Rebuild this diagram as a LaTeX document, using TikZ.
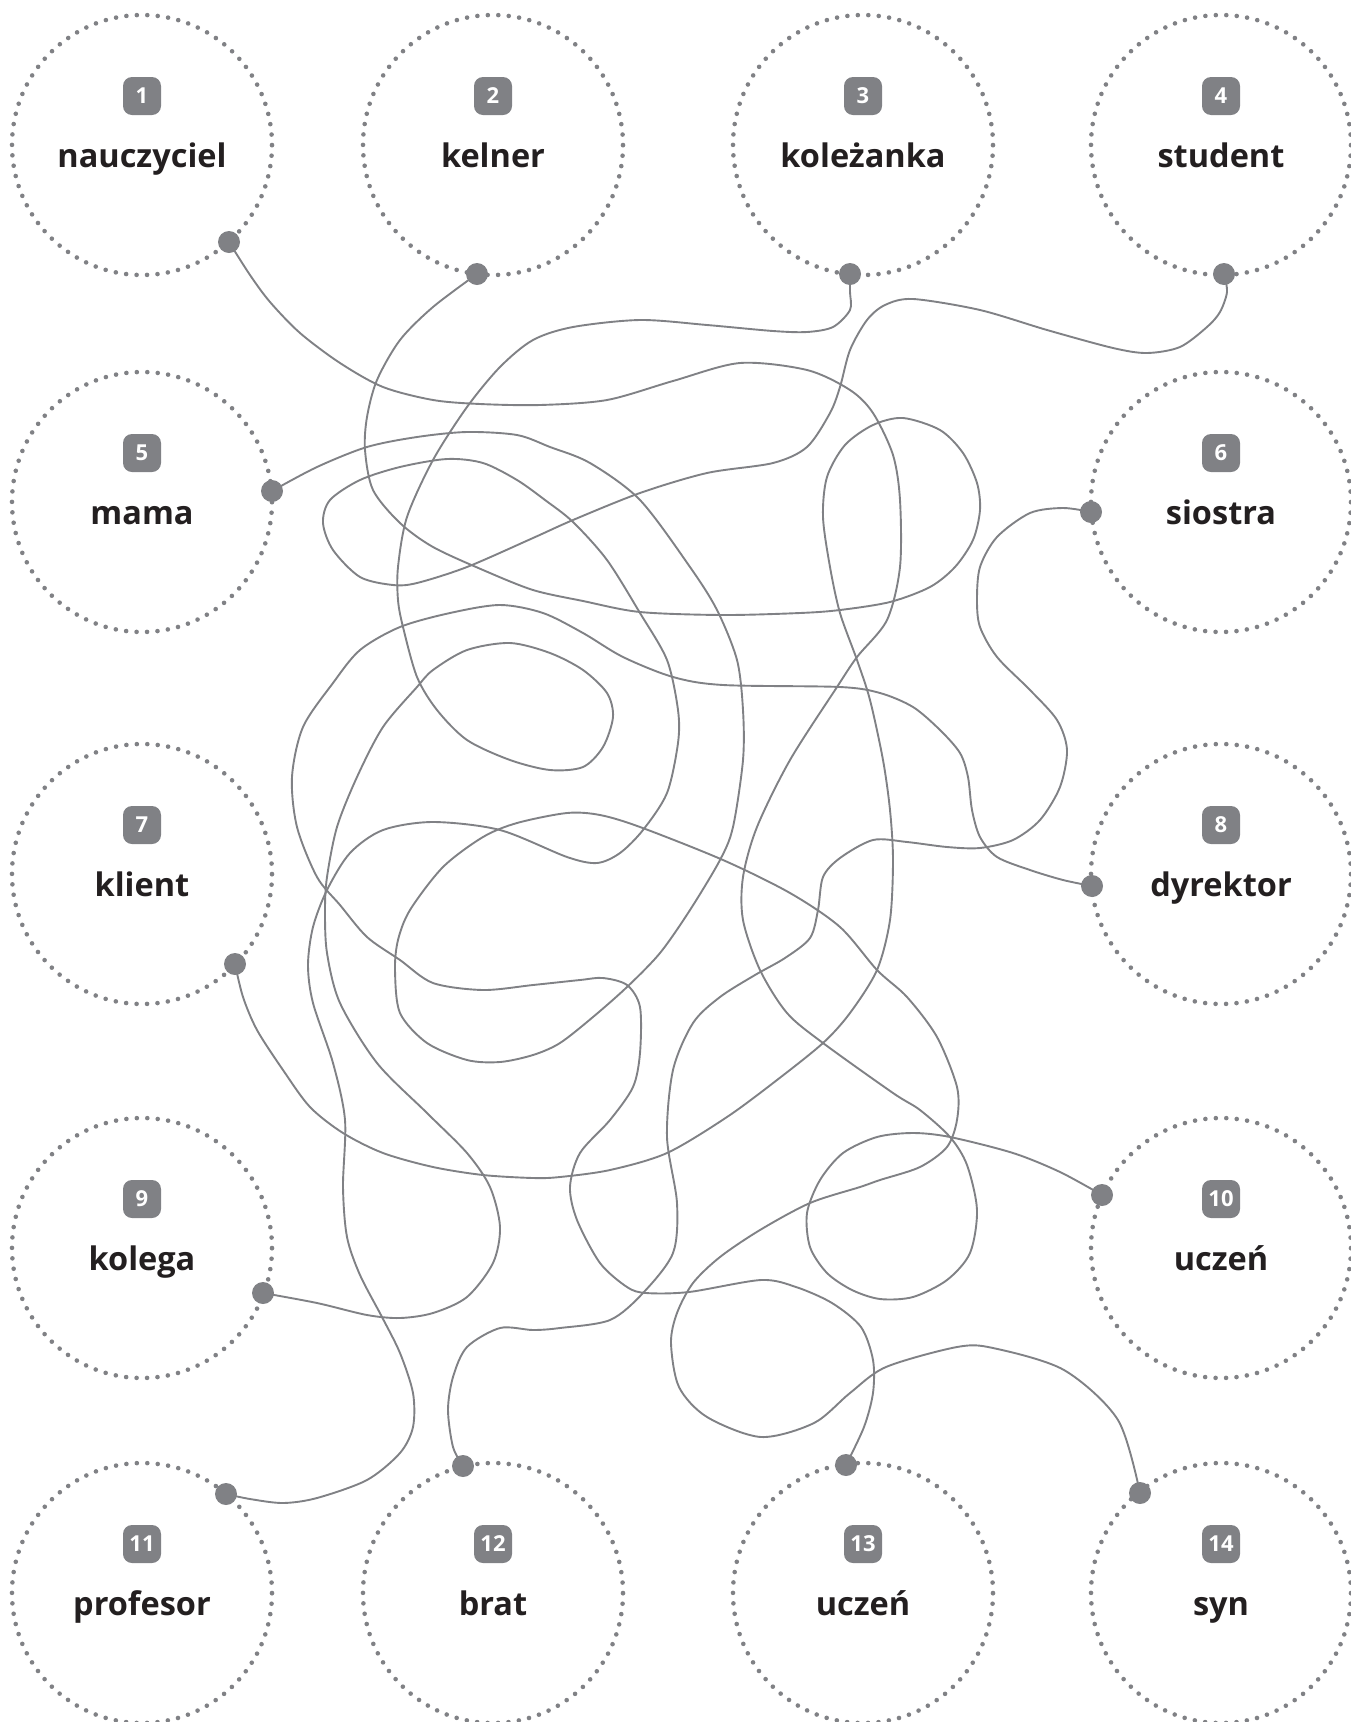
\documentclass[tikz,border=0pt]{standalone}
\usepackage{fontspec}
\setmainfont{Open Sans}
\definecolor{lg}{RGB}{128,129,133}
\definecolor{tx}{RGB}{35,31,32}
\begin{document}
\begin{tikzpicture}[x=1pt,y=-1pt,
 ring/.style={circle, minimum size=260pt, inner sep=0pt, draw=lg, line width=4.6pt, line cap=round, dash pattern=on 0pt off 10.47pt},
 badge/.style={fill=lg, rounded corners=9pt, minimum width=38pt, minimum height=38pt, inner sep=0pt, text=white, font=\fontsize{22}{22}\selectfont\bfseries},
 lbl/.style={anchor=base, text=tx, font=\fontsize{32.5}{33}\selectfont\bfseries, inner sep=0pt},
 enddot/.style={circle, fill=lg, minimum size=22pt, inner sep=0pt},
 wire/.style={draw=lg, line width=1.9pt},
 sm/.style={smooth, tension=0.5}
]
\useasboundingbox (0,0) rectangle (1351,1722);
\foreach \i/\x/\y/\t in {1/142/145/nauczyciel, 2/493/145/kelner, 3/863/145/koleżanka, 4/1221/145/student, 5/142/502/mama, 6/1221/502/siostra, 7/142/874/klient, 8/1221/874/dyrektor, 9/142/1248/kolega, 10/1221/1248/uczeń, 11/142/1593/profesor, 12/493/1593/brat, 13/863/1593/uczeń, 14/1221/1593/syn} {
 \node[ring] (c\i) at (\x,\y) {};
 \node[badge] (b\i) at (\x,\y-49) {\i};
 \node[lbl] (t\i) at (\x,\y+22) {\t};
}
\coordinate (p1) at (229,242);
\coordinate (p2) at (477,274);
\coordinate (p3) at (850,274);
\coordinate (p4) at (1224,274);
\coordinate (p5) at (272,491);
\coordinate (p6) at (1091,512);
\coordinate (p7) at (235,964);
\coordinate (p8) at (1092,886);
\coordinate (p9) at (263,1293);
\coordinate (p10) at (1102,1195);
\coordinate (p11) at (226,1494);
\coordinate (p12) at (463,1466);
\coordinate (p13) at (846,1465);
\coordinate (p14) at (1140,1493);
% 1 -> 10
\draw[wire] plot[sm] coordinates {(p1) (250,275) (270,302) (300,333) (340,363) (383,387) (433,400) (480,404) (540,405) (607,400) (673,381) (740,363) (807,370) (850,390) (873,413) (893,455) (900,500) (900,567) (887,620) (857,657) (837,687) (790,760) (757,827) (743,877) (743,920) (760,970) (787,1013) (823,1043) (893,1093) (920,1110) (950,1137) (967,1165) (977,1210) (970,1253) (947,1280) (913,1297) (880,1299) (852,1290) (827,1273) (810,1247) (807,1213) (820,1180) (843,1153) (877,1137) (913,1133) (950,1137) (1013,1153) (1060,1172) (p10)};
% 2 -> 7
\draw[wire] plot[sm] coordinates {(p2) (433,307) (400,340) (377,380) (367,417) (365,450) (373,490) (400,523) (433,547) (483,570) (533,590) (583,601) (640,612) (723,615) (800,613) (840,610) (890,602) (930,587) (955,567) (973,540) (980,510) (977,483) (963,453) (940,430) (903,418) (873,425) (845,445) (827,477) (823,517) (830,567) (840,613) (857,660) (870,700) (883,760) (890,810) (893,860) (890,920) (877,970) (850,1013) (823,1043) (777,1080) (727,1117) (667,1153) (610,1170) (560,1177) (533,1178) (483,1175) (433,1167) (383,1153) (343,1133) (310,1107) (283,1070) (257,1030) (243,997) (p7)};
% 3 -> 9
\draw[wire] plot[sm] coordinates {(p3) (850,292) (850,310) (833,327) (807,332) (773,331) (707,325) (640,320) (573,327) (533,340) (500,367) (467,407) (433,460) (407,517) (398,567) (398,600) (403,627) (417,677) (437,710) (467,740) (510,760) (550,770) (583,767) (603,747) (613,717) (607,693) (583,670) (550,653) (510,643) (467,650) (433,670) (417,687) (383,727) (357,777) (337,827) (327,877) (325,910) (327,953) (340,1003) (377,1063) (427,1113) (467,1153) (490,1187) (500,1227) (493,1263) (467,1297) (433,1313) (400,1318) (367,1315) (317,1303) (p9)};
% 5 -> 14
\draw[wire] plot[sm] coordinates {(p5) (317,467) (367,447) (417,437) (467,432) (517,435) (550,447) (590,463) (640,500) (690,567) (717,610) (737,660) (743,710) (743,760) (733,827) (720,860) (690,910) (660,953) (627,987) (593,1017) (560,1043) (533,1055) (500,1062) (467,1060) (427,1043) (400,1013) (395,970) (398,940) (410,910) (443,867) (483,837) (517,823) (567,813) (600,815) (640,827) (723,860) (790,893) (840,927) (877,970) (907,997) (937,1037) (957,1087) (957,1120) (947,1147) (920,1167) (880,1180) (860,1187) (810,1203) (760,1230) (720,1257) (693,1283) (677,1313) (671,1343) (679,1387) (707,1417) (761,1437) (814,1423) (850,1393) (886,1367) (957,1347) (993,1348) (1064,1370) (1118,1420) (p14)};
% 6 -> 12
\draw[wire] plot[sm] coordinates {(p6) (1063,508) (1030,513) (997,537) (980,567) (977,600) (980,627) (997,657) (1030,690) (1057,720) (1067,750) (1060,787) (1040,820) (1013,840) (980,848) (947,847) (907,842) (873,840) (840,858) (823,877) (818,910) (810,938) (785,958) (755,975) (720,997) (693,1023) (673,1070) (667,1137) (677,1203) (673,1253) (643,1293) (610,1320) (560,1328) (533,1330) (500,1328) (467,1347) (453,1377) (448,1410) (453,1447) (p12)};
% 8 -> 13
\draw[wire] plot[sm] coordinates {(p8) (1063,880) (1030,870) (997,857) (980,837) (972,810) (968,777) (960,753) (940,730) (913,707) (880,693) (840,687) (723,685) (673,677) (623,657) (583,633) (543,613) (500,605) (450,613) (400,627) (360,650) (333,683) (303,727) (292,777) (297,827) (317,877) (340,905) (367,937) (400,960) (433,983) (483,990) (533,985) (580,980) (603,978) (627,985) (640,1007) (640,1053) (633,1087) (610,1120) (580,1153) (570,1187) (577,1220) (600,1263) (627,1287) (646,1293) (689,1292) (761,1280) (796,1287) (832,1303) (861,1327) (873,1360) (873,1393) (864,1427) (p13)};
% 4 -> 11
\draw[wire] plot[sm] coordinates {(p4) (1227,292) (1220,312) (1207,327) (1180,347) (1147,353) (1113,348) (1047,330) (980,310) (913,299) (885,305) (867,320) (850,350) (840,387) (830,413) (807,447) (773,463) (707,473) (640,493) (573,520) (533,538) (467,567) (417,583) (393,585) (360,577) (333,550) (323,523) (330,500) (360,480) (400,467) (447,459) (483,463) (517,480) (545,500) (573,522) (607,560) (640,613) (667,660) (678,710) (678,743) (667,793) (643,830) (620,853) (597,863) (567,857) (500,830) (433,822) (383,830) (350,853) (327,890) (313,927) (308,965) (313,1003) (333,1063) (345,1120) (343,1187) (347,1237) (360,1275) (382,1317) (400,1353) (413,1393) (413,1427) (400,1453) (367,1480) (317,1498) (283,1503) (250,1499) (p11)};
\foreach \i in {1,...,14} { \node[enddot] (d\i) at (p\i) {}; }
\end{tikzpicture}
\end{document}
